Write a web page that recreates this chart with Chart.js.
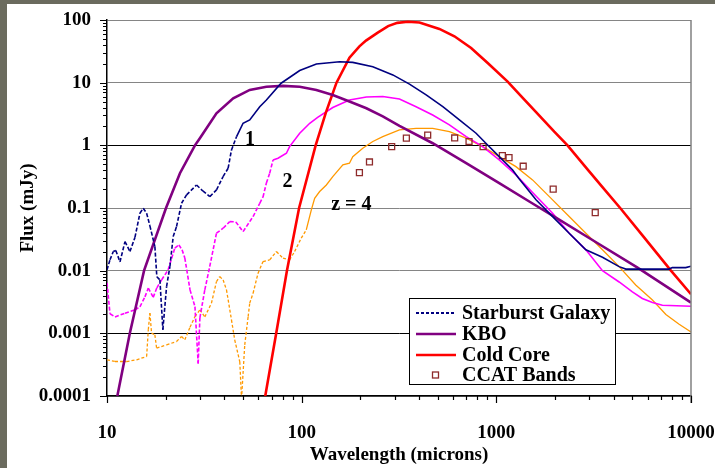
<!DOCTYPE html>
<html><head><meta charset="utf-8">
<script src="https://cdn.jsdelivr.net/npm/chart.js@4/dist/chart.umd.min.js"></script>
<style>html,body{margin:0;padding:0;background:#6b6b5e;overflow:hidden}#wrap{position:absolute;left:0;top:0;width:715px;height:468px}</style>
</head><body><div id="wrap"><canvas id="c" width="715" height="468"></canvas></div>
<script>
// ---- data ----
const seriesNames = ['Starburst Galaxy', 'KBO', 'Cold Core', 'CCAT Bands'];

const starburstWl = [10, 10.36, 10.77, 11.1, 11.66, 12.37, 13.12, 13.92, 14.76, 15.35, 15.98, 16.61, 17.62, 18.03, 18.7, 19.36, 20.23, 21.04, 21.88, 22.76, 24.15, 25.62, 28.84, 31.06, 33.74, 36.53, 39.46, 41.9, 43.6, 46.3, 50.0, 54.1, 60.9, 65.9, 78.4, 97.7, 119, 156.6, 183, 232, 294, 358, 436, 531, 646, 787, 902, 1035, 1213, 1303, 1599, 1946, 2367, 2884, 3509, 4274, 4625, 6338, 7711, 8017, 9390, 10000];
const starburstFlux = [0.0103, 0.0149, 0.0202, 0.021, 0.0138, 0.0291, 0.0202, 0.034, 0.0826, 0.0993, 0.0826, 0.0519, 0.0242, 0.008, 0.00713, 0.00114, 0.00557, 0.0116, 0.035, 0.0505, 0.119, 0.162, 0.233, 0.187, 0.152, 0.195, 0.317, 0.431, 0.845, 1.38, 2.25, 2.54, 4.14, 5.3, 9.8, 15.6, 19.9, 21.6, 21.1, 18.0, 13.3, 9.5, 6.37, 4.14, 2.54, 1.56, 1.01, 0.66, 0.405, 0.299, 0.135, 0.073, 0.0396, 0.0215, 0.0164, 0.0116, 0.0106, 0.0106, 0.0106, 0.0112, 0.0112, 0.0118];

const kboWl = [11.3, 13.1, 15.5, 20.1, 23.7, 28.3, 30, 36.5, 44.5, 54.1, 65.9, 80.2, 97.7, 119, 144.5, 176, 215, 261, 318, 471, 700, 1035, 1535, 1984, 3055, 5312, 10000];
const kboFlux = [0.0001, 0.001, 0.01, 0.1, 0.359, 1.0, 1.3, 3.25, 5.64, 7.66, 8.63, 8.9, 8.63, 7.66, 6.37, 5.0, 3.9, 2.9, 2.05, 1.08, 0.52, 0.25, 0.118, 0.073, 0.032, 0.0112, 0.0031];

const coldWl = [65, 74, 84, 97, 118, 133, 151, 176, 198, 214, 246, 278, 310, 351, 403, 510, 609, 742, 903, 1143, 1340, 1600, 1984, 2321, 2940, 3500, 4327, 5740, 7890, 10000];
const coldFlux = [0.0001, 0.001, 0.01, 0.1, 1.0, 3.3, 10, 25, 38, 47, 63, 80, 90, 94, 91, 72, 55, 35.8, 20.6, 10.4, 6.1, 3.4, 1.65, 1.0, 0.414, 0.218, 0.1, 0.034, 0.01, 0.0042];

const ccatWl = [198, 223, 290, 345, 444, 611, 724, 855, 1074, 1162, 1374, 1959, 3222];
const ccatFlux = [0.367, 0.543, 0.953, 1.30, 1.46, 1.31, 1.15, 0.953, 0.685, 0.637, 0.464, 0.20, 0.0845];

const z2Wl = [10, 10.36, 10.99, 12.37, 13.92, 14.76, 15.66, 16.3, 17.27, 18.03, 19.08, 20.6, 22.3, 23.4, 24.3, 25.1, 26.7, 28.3, 29.4, 30.0, 31.8, 33.7, 36.5, 39.5, 42.7, 45.9, 50.0, 56.3, 60.9, 63.3, 65.9, 68.5, 71.3, 75.6, 83.5, 86.7, 97.7, 110, 120.8, 144.5, 176, 215, 261, 318, 387, 471, 574, 700, 851, 1035, 1261, 1535, 1946, 2367, 2884, 3509, 4274, 5000, 5623, 6338, 7127, 10000];
const z2Flux = [0.0064, 0.00205, 0.00183, 0.0021, 0.00237, 0.00265, 0.00382, 0.00526, 0.00375, 0.00532, 0.00713, 0.0103, 0.0229, 0.0258, 0.0215, 0.016, 0.00494, 0.00267, 0.00033, 0.00177, 0.00494, 0.0116, 0.0396, 0.0476, 0.0607, 0.06, 0.042, 0.073, 0.119, 0.150, 0.251, 0.359, 0.585, 0.622, 0.748, 0.953, 1.56, 2.25, 2.79, 4.02, 5.30, 5.91, 6.03, 5.50, 4.14, 3.05, 2.12, 1.38, 0.953, 0.585, 0.337, 0.177, 0.0826, 0.0396, 0.0215, 0.0100, 0.0066, 0.0046, 0.0036, 0.0031, 0.0028, 0.0027];

const z4Wl = [10, 10.99, 12.6, 14.2, 15.98, 16.3, 16.61, 16.94, 17.62, 17.98, 20.23, 22.76, 24.15, 25.1, 26.7, 28.3, 30.0, 31.8, 34.4, 36.5, 37.9, 39.5, 41.1, 43.6, 45.3, 48.1, 49.1, 51.0, 53.1, 54.1, 56.3, 59.7, 63.3, 68.5, 74.2, 80.2, 86.7, 92.0, 99.5, 105.6, 112.1, 116.6, 123.7, 133.9, 144.5, 162.8, 176, 183, 206, 232, 261, 318, 387, 471, 574, 700, 851, 1035, 1261, 1535, 1900, 2367, 2884, 3509, 4274, 5200, 6338, 7430, 8690, 10000];
const z4Flux = [0.000378, 0.000355, 0.000355, 0.000378, 0.000427, 0.00114, 0.0021, 0.00101, 0.000946, 0.00058, 0.000656, 0.00074, 0.00089, 0.000787, 0.00125, 0.00185, 0.00237, 0.00183, 0.00303, 0.0067, 0.00805, 0.00713, 0.00494, 0.00164, 0.000787, 0.000351, 0.00009, 0.000656, 0.00185, 0.00303, 0.00438, 0.00912, 0.014, 0.0149, 0.0202, 0.0158, 0.0149, 0.0202, 0.033, 0.0448, 0.0933, 0.143, 0.183, 0.233, 0.317, 0.487, 0.518, 0.66, 0.90, 1.15, 1.38, 1.76, 1.87, 1.87, 1.65, 1.30, 0.953, 0.66, 0.457, 0.281, 0.145, 0.073, 0.0396, 0.0215, 0.0116, 0.0059, 0.0034, 0.002, 0.0014, 0.00105];

const xTickLabels = ['10', '100', '1000', '10000'];
const yTickLabels = ['0.0001', '0.001', '0.01', '0.1', '1', '10', '100'];
const curveLabels = ['1', '2', 'z = 4'];
const curveLabelWl = [54.3, 84.5, 180];
const curveLabelFlux = [1.22, 0.264, 0.112];

// ---- style ----
const SERIF = "'Liberation Serif', 'Times New Roman', serif";
const NAVY = '#000080', PURPLE = '#800080', RED = '#ff0000', MAGENTA = '#ff00ff', ORANGE = '#ff9900', BROWN = '#8e2b2b';

function pts(xs, ys) { return xs.map((x, i) => ({x: x, y: ys[i]})); }
function isDecade(v) { const l = Math.log10(v); return Math.abs(l - Math.round(l)) < 1e-9; }
// all 1..9 x 10^n values of a log scale's range (for tick marks)
function logTickValues(scale) {
  const out = [];
  const e0 = Math.floor(Math.log10(scale.min) + 1e-9), e1 = Math.ceil(Math.log10(scale.max) - 1e-9);
  for (let e = e0; e <= e1; e++) {
    for (let k = 1; k <= 9; k++) {
      const v = k * Math.pow(10, e);
      if (v >= scale.min * 0.999999 && v <= scale.max * 1.000001) out.push({v: v, major: k === 1});
    }
  }
  return out;
}
// Excel-like dash that restarts on every data segment (dense parts look solid)
function restartDash(limit, dash) {
  return ctx => (ctx.p1.parsed.x <= limit) ? (ctx.p0DataIndex % 2 ? dash : dash.concat([0, 0])) : undefined;
}

const lineBase = {showLine: true, pointRadius: 0, pointHoverRadius: 0, fill: false, tension: 0};

const bgPlugin = {
  id: 'bg',
  beforeDraw(chart) {
    const c = chart.ctx;
    c.save();
    c.fillStyle = '#6b6b5e';
    c.fillRect(0, 0, chart.width, chart.height);
    c.fillStyle = '#ffffff';
    c.fillRect(7, 4, chart.width - 7, chart.height - 4);
    c.restore();
  }
};

const extrasPlugin = {
  id: 'extras',
  afterDraw(chart) {
    const c = chart.ctx, a = chart.chartArea, xs = chart.scales.x, ys = chart.scales.y;
    c.save();
    // right frame
    c.strokeStyle = '#808080'; c.lineWidth = 1.5;
    c.beginPath(); c.moveTo(a.right, a.top); c.lineTo(a.right, a.bottom + 7); c.stroke();
    // tick marks
    c.strokeStyle = '#000'; c.lineWidth = 1.2;
    c.beginPath();
    logTickValues(xs).forEach(t => {
      const p = Math.round(xs.getPixelForValue(t.v)) + 0.5;
      const len = t.major ? 7 : 4;
      c.moveTo(p, a.bottom); c.lineTo(p, a.bottom + len);
    });
    logTickValues(ys).forEach(t => {
      const p = Math.round(ys.getPixelForValue(t.v)) + 0.5;
      const len = t.major ? 7 : 4;
      c.moveTo(a.left - len, p); c.lineTo(a.left, p);
    });
    c.stroke();
    // curve annotations
    c.fillStyle = '#000';
    c.font = 'bold 20px ' + SERIF;
    c.textAlign = 'center'; c.textBaseline = 'middle';
    curveLabels.forEach((txt, i) => {
      c.fillText(txt, xs.getPixelForValue(curveLabelWl[i]), ys.getPixelForValue(curveLabelFlux[i]));
    });
    // legend
    const bx = 409, by = 298, bw = 206, bh = 86;
    c.fillStyle = '#fff'; c.fillRect(bx, by, bw, bh);
    c.strokeStyle = '#000'; c.lineWidth = 1;
    c.strokeRect(bx + 0.5, by + 0.5, bw, bh);
    const rowY = [313, 334, 355, 375];
    c.font = 'bold 20px ' + SERIF;
    c.textAlign = 'left'; c.textBaseline = 'middle';
    seriesNames.forEach((name, i) => {
      const ds = chart.data.datasets[i];
      const y = rowY[i];
      c.save();
      if (i < 3) {
        c.strokeStyle = ds.borderColor;
        c.lineWidth = i === 0 ? 2 : ds.borderWidth;
        c.setLineDash(i === 0 ? [3, 2] : []);
        c.beginPath(); c.moveTo(416, y); c.lineTo(456, y); c.stroke();
      } else {
        c.strokeStyle = ds.pointBorderColor; c.lineWidth = 1.3;
        c.strokeRect(432.5, y - 3, 6, 6);
      }
      c.restore();
      c.fillStyle = '#000';
      c.fillText(name, 462, y + 1);
    });
    c.restore();
  }
};

const chart = new Chart(document.getElementById('c'), {
  type: 'scatter',
  data: {
    datasets: [
      Object.assign({}, lineBase, {label: seriesNames[0], data: pts(starburstWl, starburstFlux), borderColor: NAVY, borderWidth: 1.6,
        segment: {borderDash: restartDash(48, [4, 2])}}),
      Object.assign({}, lineBase, {label: seriesNames[1], data: pts(kboWl, kboFlux), borderColor: PURPLE, borderWidth: 2.6}),
      Object.assign({}, lineBase, {label: seriesNames[2], data: pts(coldWl, coldFlux), borderColor: RED, borderWidth: 2.6}),
      {label: seriesNames[3], data: pts(ccatWl, ccatFlux), showLine: false, pointStyle: 'rect', pointRadius: 4.2, pointHoverRadius: 4.2,
        pointBorderColor: BROWN, pointBackgroundColor: 'rgba(255,255,255,0)', pointBorderWidth: 1.3},
      Object.assign({}, lineBase, {label: 'z = 2', data: pts(z2Wl, z2Flux), borderColor: MAGENTA, borderWidth: 1.6,
        segment: {borderDash: restartDash(72, [4, 2])}}),
      Object.assign({}, lineBase, {label: 'z = 4', data: pts(z4Wl, z4Flux), borderColor: ORANGE, borderWidth: 1.3,
        segment: {borderDash: restartDash(112, [3, 2])}})
    ]
  },
  options: {
    responsive: false,
    animation: false,
    devicePixelRatio: 1,
    layout: {padding: {left: 7, top: 20, right: 24, bottom: 0}},
    plugins: {legend: {display: false}, tooltip: {enabled: false}},
    scales: {
      x: {
        type: 'logarithmic', position: 'bottom', min: 10, max: 10000,
        grid: {display: false, drawTicks: false},
        border: {display: true, color: '#000', width: 1.5},
        ticks: {
          autoSkip: false, maxRotation: 0, minRotation: 0, padding: 26, color: '#000',
          font: {family: SERIF, size: 19, weight: 'bold'},
          callback: v => isDecade(v) ? xTickLabels[Math.round(Math.log10(v)) - 1] : ''
        },
        title: {display: true, text: 'Wavelength (microns)', color: '#000',
          font: {family: SERIF, size: 19, weight: 'bold'}, padding: {top: 0, bottom: 2}},
        afterFit: s => { s.height = 72; s.paddingLeft = 0; s.paddingRight = 0; }
      },
      y: {
        type: 'logarithmic', position: 'left', min: 0.0001, max: 100,
        grid: {
          drawTicks: false, lineWidth: 1,
          color: ctx => {
            const v = ctx.tick && ctx.tick.value;
            if (!v || !isDecade(v)) return 'rgba(0,0,0,0)';
            const e = Math.round(Math.log10(v));
            return (e === 0 || e === -3) ? '#000' : '#858585';
          }
        },
        border: {display: true, color: '#000', width: 1.5},
        ticks: {
          autoSkip: false, padding: 16, color: '#000',
          font: {family: SERIF, size: 19, weight: 'bold'},
          callback: v => isDecade(v) ? yTickLabels[Math.round(Math.log10(v)) + 4] : ''
        },
        title: {display: true, text: 'Flux (mJy)', color: '#000',
          font: {family: SERIF, size: 19, weight: 'bold'}, padding: {top: 10, bottom: 0}},
        afterFit: s => { s.width = 100; s.paddingTop = 0; s.paddingBottom = 0; }
      }
    }
  },
  plugins: [bgPlugin, extrasPlugin]
});
</script></body></html>
